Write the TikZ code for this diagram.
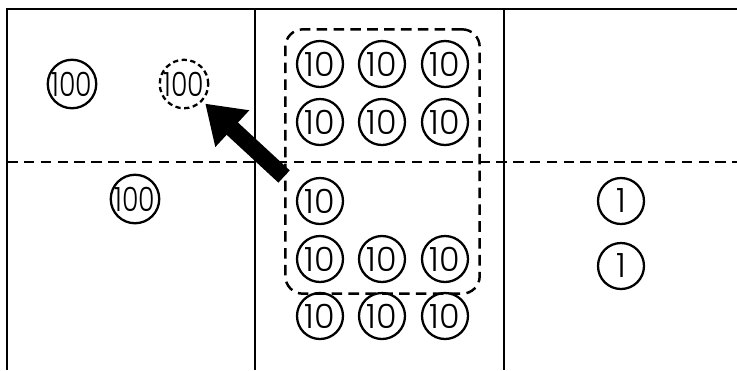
\documentclass[tikz,border=0pt]{standalone}
\usepackage{fontspec}
\setmainfont{Poppins}[UprightFont=* Light]
\usetikzlibrary{arrows.meta,calc,fit}

\begin{document}
\begin{tikzpicture}[
  x=0.02cm, y=-0.02cm,
  frame/.style={line width=1.3pt},
  split/.style={line width=1.4pt, dash pattern=on 6pt off 3.6pt},
  token/.style={circle, draw, line width=1.3pt, inner sep=0pt,
                minimum size=0.92cm, font=\fontsize{19}{19}\selectfont},
  bigtoken/.style={token, minimum size=0.97cm},
  ghost/.style={bigtoken, dash pattern=on 3pt off 2pt},
  group/.style={draw, line width=1.4pt, dash pattern=on 6pt off 3.6pt,
                rounded corners=10pt, inner sep=6pt},
  push/.style={line width=9.5pt, shorten >=2pt,
               -{Triangle[length=21pt,width=27pt]}},
]

%% ── page size: 1 unit = 1 px, y grows downwards ─────────
\useasboundingbox (0,0) rectangle (737,370);

%% ── grid: three columns, upper / lower half ─────────────
\def\colA{255}   % first divider
\def\colB{504}   % second divider
\def\midY{162}   % dashed split
\draw[frame] (737,9) -- (7,9) -- (7,370);
\draw[frame] (\colA,9) -- (\colA,370);
\draw[frame] (\colB,9) -- (\colB,370);
\draw[split] (7,\midY) -- (737,\midY);

%% ── left column ─────────────────────────────────────────
\node[bigtoken] (l1) at (72,84)  {\scalebox{0.8}[1]{100}};
\node[ghost]    (moved) at (184,84) {\scalebox{0.8}[1]{100}};
\node[bigtoken] (l2) at (135,199) {\scalebox{0.8}[1]{100}};

%% ── middle column: rows of tens ─────────────────────────
\foreach \r/\yy in {1/64,2/122,4/259,5/316}{
  \foreach \c/\xx in {1/320,2/382,3/445}{
    \node[token] (m\r\c) at (\xx,\yy) {10};
  }
}
\node[token] (m31) at (320,201) {10};

%% ── right column ────────────────────────────────────────
\node[token] (r1) at (621,201) {1};
\node[token] (r2) at (621,266) {1};

%% ── dashed group and the move arrow ─────────────────────
\node[group, fit=(m11)(m43)] (grp) {};
\coordinate (tail) at ($(grp.west)+(0,15)$);
\draw[push] (tail) -- (moved);

\end{tikzpicture}
\end{document}
